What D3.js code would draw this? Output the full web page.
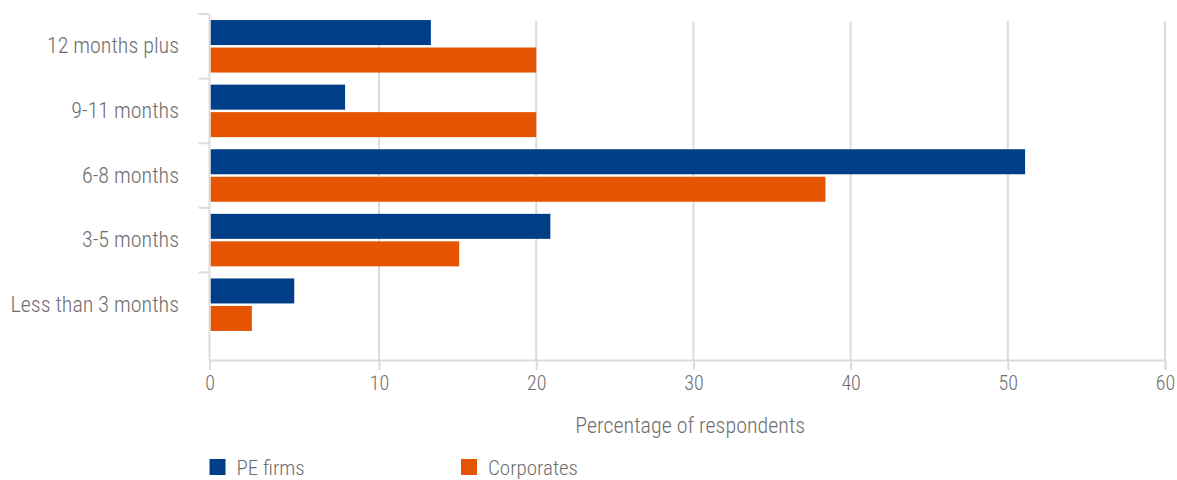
<!DOCTYPE html>
<html>
<head>
<meta charset="utf-8">
<script src="https://cdn.jsdelivr.net/npm/d3@7"></script>
<style>
  body { margin: 0; background: #fff; }
  svg text { font-family: "Roboto Condensed", "Liberation Sans Narrow", "DejaVu Sans Condensed", Roboto, sans-serif; font-weight: 300; fill: #6e6e70; }
</style>
</head>
<body>
<svg width="1177" height="480"></svg>
<script>
const categories = ["12 months plus", "9-11 months", "6-8 months", "3-5 months", "Less than 3 months"];
const seriesNames = ["PE firms", "Corporates"];
const peFirms = [13.3, 8, 51.1, 20.9, 5];
const corporates = [20, 20, 38.4, 15.1, 2.5];
const xTicks = [0, 10, 20, 30, 40, 50, 60];
const colors = ["#003f87", "#e55400"];

const rows = categories.map((c, i) => ({ cat: c, values: [peFirms[i], corporates[i]] }));

const svg = d3.select("svg");
const left = 209.5, baseY = 360, topY = 14, gridTop = 21;

// the source spaces 0-10 wider than the other ticks
const x = d3.scaleLinear()
    .domain([0, 10, 60])
    .range([left, 379, 1165]);

const y = d3.scaleBand()
    .domain(categories)
    .range([topY, 337]);

const inner = d3.scaleBand()
    .domain(seriesNames)
    .range([0, y.bandwidth()])
    .paddingInner(0.09)
    .paddingOuter(0.22);

// gridlines
svg.append("g")
    .selectAll("line")
    .data(xTicks.slice(1))
    .enter()
    .append("line")
    .attr("x1", d => x(d)).attr("x2", d => x(d))
    .attr("y1", gridTop).attr("y2", baseY)
    .attr("stroke", "#dcdcdc")
    .attr("stroke-width", 2);

// bars
const groups = svg.append("g")
    .selectAll("g")
    .data(rows)
    .enter()
    .append("g")
    .attr("transform", d => `translate(0,${y(d.cat)})`);

groups.selectAll("rect")
    .data(d => d.values.map((v, i) => ({ key: seriesNames[i], v: v, i: i })))
    .enter()
    .append("rect")
    .attr("x", x(0) + 1)
    .attr("y", d => inner(d.key))
    .attr("width", d => x(d.v) - x(0) - 1)
    .attr("height", inner.bandwidth())
    .attr("fill", d => colors[d.i]);

// x axis
const xAxis = svg.append("g")
    .attr("transform", `translate(0,${baseY})`)
    .call(d3.axisBottom(x).tickValues(xTicks).tickSize(10).tickPadding(6));
xAxis.select(".domain").attr("stroke", "#dcdcdc").attr("stroke-width", 2);
xAxis.selectAll(".tick line").attr("stroke", "#dcdcdc").attr("stroke-width", 2);
xAxis.selectAll(".tick text").style("font-size", "20px");

// y axis line and category ticks
svg.append("line")
    .attr("x1", left).attr("x2", left)
    .attr("y1", topY).attr("y2", baseY)
    .attr("stroke", "#dcdcdc").attr("stroke-width", 2);

svg.append("g")
    .selectAll("line")
    .data(categories)
    .enter()
    .append("line")
    .attr("x1", left - 11).attr("x2", left)
    .attr("y1", d => y(d)).attr("y2", d => y(d))
    .attr("stroke", "#dcdcdc").attr("stroke-width", 2);

svg.append("g")
    .selectAll("text")
    .data(categories)
    .enter()
    .append("text")
    .attr("x", 179)
    .attr("y", d => y(d) + y.bandwidth() / 2)
    .attr("dy", "0.32em")
    .attr("text-anchor", "end")
    .style("font-size", "22px")
    .text(d => d);

// axis title
svg.append("text")
    .attr("x", (x(0) + x(60)) / 2 + 3)
    .attr("y", 432.5)
    .attr("text-anchor", "middle")
    .style("font-size", "22px")
    .text("Percentage of respondents");

// legend
const legend = svg.append("g")
    .selectAll("g")
    .data(seriesNames)
    .enter()
    .append("g")
    .attr("transform", (d, i) => `translate(${i === 0 ? 209.5 : 461},459)`);

legend.append("rect")
    .attr("width", 16)
    .attr("height", 16)
    .attr("fill", (d, i) => colors[i]);

legend.append("text")
    .attr("x", 27)
    .attr("y", 15.5)
    .style("font-size", "21px")
    .text(d => d);
</script>
</body>
</html>
